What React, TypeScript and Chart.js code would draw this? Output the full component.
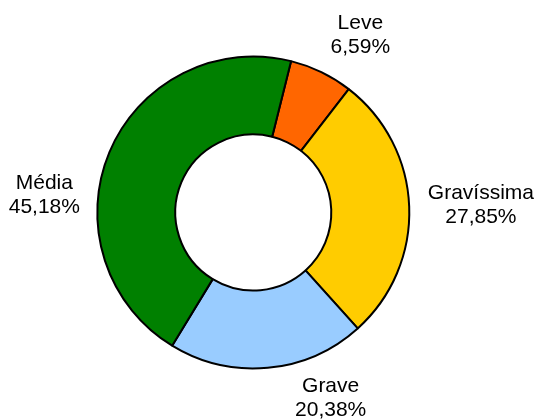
import React, { useEffect, useRef } from "react";
import { Chart, registerables } from "chart.js";

Chart.register(...registerables);

const categories = ["Leve", "Gravíssima", "Grave", "Média"];
const values = [6.59, 27.85, 20.38, 45.18];
const valueLabels = ["6,59%", "27,85%", "20,38%", "45,18%"];
const colors = ["#FF6600", "#FFCC00", "#99CCFF", "#008000"];
// label placement: angle (deg clockwise from top) and distance as a multiple of the outer radius
const labelAngles = [31.1, 88.1, 157.4, 274.6];
const labelDist = [1.328, 1.46, 1.29, 1.344];

const labelPlugin = {
  id: "outsideLabels",
  afterDraw(chart: any) {
    const meta = chart.getDatasetMeta(0);
    if (!meta || !meta.data.length) return;
    const arc: any = meta.data[0];
    const cx = arc.x;
    const cy = arc.y;
    const R = arc.outerRadius;
    const ctx = chart.ctx;
    ctx.save();
    ctx.fillStyle = "#000";
    ctx.font = "21px 'Liberation Sans', Arial, sans-serif";
    ctx.textAlign = "center";
    ctx.textBaseline = "middle";
    categories.forEach((c, i) => {
      const a = (labelAngles[i] * Math.PI) / 180;
      const d = R * labelDist[i];
      const x = cx + d * Math.sin(a);
      const y = cy - d * Math.cos(a);
      ctx.fillText(c, x, y - 12);
      ctx.fillText(valueLabels[i], x, y + 12);
    });
    ctx.restore();
  },
};

export default function App() {
  const ref = useRef<HTMLCanvasElement | null>(null);
  useEffect(() => {
    document.body.style.margin = "0";
    const chart = new Chart(ref.current as HTMLCanvasElement, {
      type: "doughnut",
      data: {
        labels: categories,
        datasets: [
          {
            data: values,
            backgroundColor: colors,
            borderColor: "#000000",
            borderWidth: 2,
          },
        ],
      },
      options: {
        animation: false,
        responsive: false,
        rotation: 14,
        cutout: "50%",
        layout: { padding: { top: 55.5, bottom: 50.5, left: 96.3, right: 128.7 } },
        plugins: {
          legend: { display: false },
          tooltip: { enabled: false },
        },
      },
      plugins: [labelPlugin],
    });
    return () => chart.destroy();
  }, []);
  return (
    <div style={{ position: "absolute", left: 0, top: 0, width: 539, height: 420, background: "#fff" }}>
      <canvas ref={ref} width={539} height={420} />
    </div>
  );
}
